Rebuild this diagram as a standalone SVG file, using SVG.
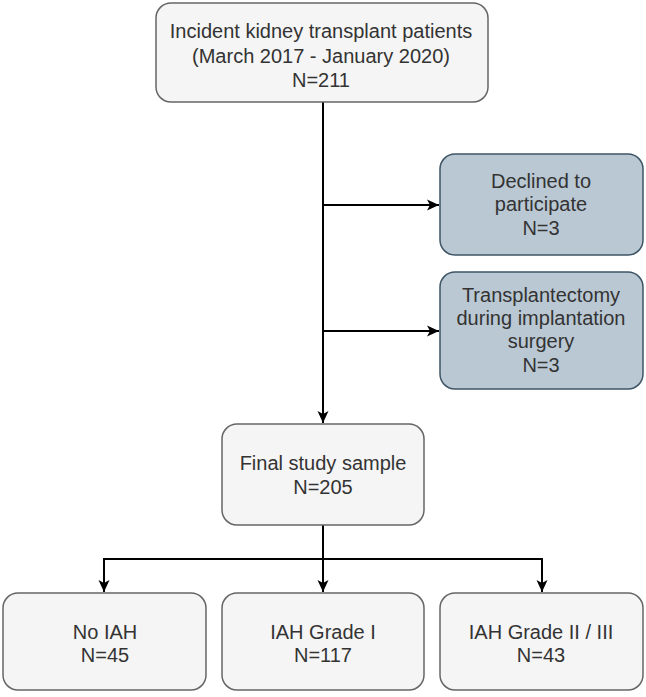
<svg xmlns="http://www.w3.org/2000/svg" width="646" height="697" viewBox="0 0 646 697">
<style>
.box{fill:#f5f5f5;stroke:#666666;stroke-width:1.5}
.blue{fill:#bac8d3;stroke:#3f5566;stroke-width:1.5}
text{font-family:"Liberation Sans",Arial,sans-serif;font-size:20px;fill:#333333;text-anchor:middle}
.edge{fill:none;stroke:#000000;stroke-width:2}
</style>
<defs>
<marker id="arr" viewBox="0 0 12 12" refX="12" refY="6" markerWidth="12" markerHeight="12" markerUnits="userSpaceOnUse" orient="auto">
<path d="M0,0.5 L12,6 L0,11.5 L3,6 Z" fill="#000000"/>
</marker>
</defs>
<rect width="646" height="697" fill="#ffffff"/>
<g id="connectors">
<path class="edge" d="M323,102 V423" marker-end="url(#arr)"/>
<path class="edge" d="M323,205 H439" marker-end="url(#arr)"/>
<path class="edge" d="M323,331 H439" marker-end="url(#arr)"/>
<path class="edge" d="M323,525 V592" marker-end="url(#arr)"/>
<path class="edge" d="M323,559 H104 V592" marker-end="url(#arr)"/>
<path class="edge" d="M323,559 H542 V592" marker-end="url(#arr)"/>
</g>
<g id="n-incident">
<rect class="box" x="156" y="3" width="332" height="99" rx="15"/>
<text x="321" y="38">Incident kidney transplant patients</text>
<text x="321" y="63">(March 2017 - January 2020)</text>
<text x="321" y="87">N=211</text>
</g>
<g id="n-declined">
<rect class="blue" x="440" y="154" width="203" height="101" rx="15"/>
<text x="541" y="188">Declined to</text>
<text x="541" y="211">participate</text>
<text x="541" y="235">N=3</text>
</g>
<g id="n-transplantectomy">
<rect class="blue" x="440" y="272" width="203" height="117" rx="15"/>
<text x="541" y="302">Transplantectomy</text>
<text x="541" y="325">during implantation</text>
<text x="541" y="348">surgery</text>
<text x="541" y="372">N=3</text>
</g>
<g id="n-final">
<rect class="box" x="222" y="424" width="202" height="101" rx="15"/>
<text x="323" y="470">Final study sample</text>
<text x="323" y="494">N=205</text>
</g>
<g id="n-noiah">
<rect class="box" x="3" y="593" width="203" height="97" rx="15"/>
<text x="105" y="639">No IAH</text>
<text x="105" y="662">N=45</text>
</g>
<g id="n-grade1">
<rect class="box" x="222" y="593" width="202" height="97" rx="15"/>
<text x="323" y="639">IAH Grade I</text>
<text x="323" y="662">N=117</text>
</g>
<g id="n-grade23">
<rect class="box" x="440" y="593" width="203" height="97" rx="15"/>
<text x="541" y="639">IAH Grade II / III</text>
<text x="541" y="662">N=43</text>
</g>
</svg>
